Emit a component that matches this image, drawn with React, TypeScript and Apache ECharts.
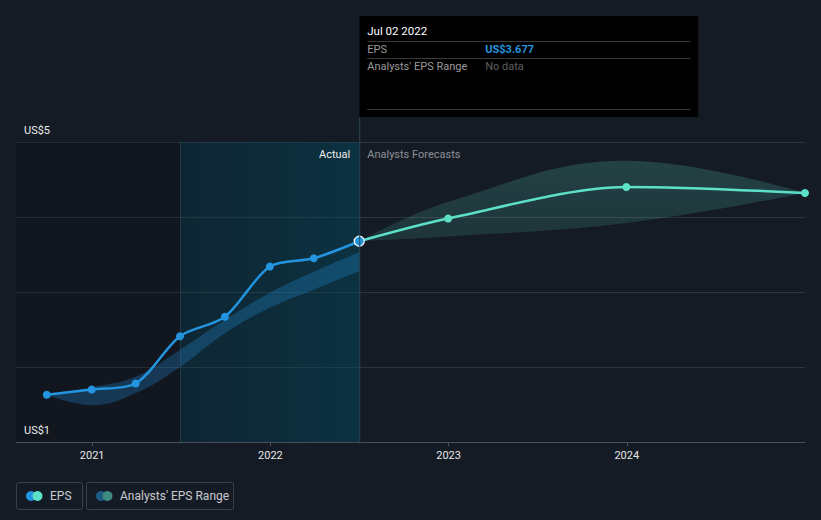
import React, { useEffect, useRef } from "react";
import * as echarts from "echarts";

const actualDates = ["2020-09-30", "2020-12-31", "2021-03-31", "2021-06-30", "2021-09-30", "2021-12-31", "2022-03-31", "2022-07-02"];
const actualEps = [1.63, 1.7, 1.78, 2.41, 2.67, 3.34, 3.45, 3.677];
const pastRangeLow = [1.63, 1.49, 1.65, 2.0, 2.45, 2.79, 3.03, 3.28];
const pastRangeHigh = [1.63, 1.73, 1.87, 2.23, 2.63, 2.99, 3.27, 3.53];

const forecastDates = ["2022-07-02", "2022-12-31", "2023-12-31", "2024-12-31"];
const forecastEps = [3.677, 3.98, 4.4, 4.32];
const forecastLow = [3.677, 3.74, 3.92, 4.32];
const forecastHigh = [3.677, 4.2, 4.75, 4.32];

const yTickLabels = ["US$1", "US$5"];
const yTickValues = [1, 5];
const axisMin = "2020-07-29";
const axisMax = "2024-12-31";
const forecastStart = "2021-06-30";
const todayDate = "2022-07-02";
const tooltipTitle = "Jul 02 2022";
const tooltipEps = "US$3.677";

const FONT = "Roboto, 'Noto Sans', sans-serif";
const BLUE = "#2394df";
const MINT = "#5ce1c8";

export default function App() {
  const ref = useRef<HTMLDivElement>(null);
  useEffect(() => {
    if (!ref.current) return;
    const chart = echarts.init(ref.current, null, { renderer: "svg" });
    const pair = (d: string[], v: number[]) => d.map((x, i) => [x, v[i]]);
    const diff = (a: number[], b: number[]) => a.map((x, i) => +(x - b[i]).toFixed(4));

    const option: any = {
      animation: false,
      backgroundColor: "#151b25",
      textStyle: { fontFamily: FONT },
      grid: { left: 16, right: 16, top: 142, bottom: 78 },
      xAxis: {
        type: "time",
        min: axisMin,
        max: axisMax,
        minInterval: 365 * 86400000,
        maxInterval: 366 * 86400000,
        axisLine: { lineStyle: { color: "#4a4f57" } },
        axisTick: { show: true, length: 4, lineStyle: { color: "#4a4f57" } },
        axisLabel: { color: "#e6e6e6", fontSize: 11, fontFamily: FONT, formatter: "{yyyy}", margin: 8 },
        splitLine: { show: false },
      },
      yAxis: {
        type: "value",
        min: 1,
        max: 5,
        interval: 1,
        axisLabel: { show: false },
        axisLine: { show: false },
        axisTick: { show: false },
        splitLine: { lineStyle: { color: "#2e343d", width: 1 } },
      },
      series: [
        {
          name: "bg",
          type: "line",
          data: [],
          silent: true,
          z: 0,
          markArea: {
            silent: true,
            data: [
              [{ xAxis: axisMin, itemStyle: { color: "rgba(0,0,0,0.16)" } }, { xAxis: forecastStart }],
              [
                {
                  xAxis: forecastStart,
                  itemStyle: {
                    color: new echarts.graphic.LinearGradient(0, 0, 1, 0, [
                      { offset: 0, color: "rgba(0,62,82,0.32)" },
                      { offset: 1, color: "rgba(0,78,100,0.45)" },
                    ]),
                  },
                },
                { xAxis: todayDate },
              ],
            ],
          },
          markLine: {
            silent: true,
            symbol: "none",
            label: { show: false },
            lineStyle: { color: "rgba(60,110,130,0.3)", type: "solid", width: 1 },
            data: [{ xAxis: forecastStart }],
          },
        },
        {
          name: "pastLow",
          type: "line",
          stack: "past",
          smooth: 0.4,
          symbol: "none",
          lineStyle: { opacity: 0 },
          areaStyle: { opacity: 0 },
          data: pair(actualDates, pastRangeLow),
          z: 2,
        },
        {
          name: "pastRange",
          type: "line",
          stack: "past",
          smooth: 0.4,
          symbol: "none",
          lineStyle: { opacity: 0 },
          areaStyle: { color: "rgba(35,148,223,0.4)" },
          data: pair(actualDates, diff(pastRangeHigh, pastRangeLow)),
          z: 2,
        },
        {
          name: "fcLow",
          type: "line",
          stack: "fc",
          smooth: 0.4,
          symbol: "none",
          lineStyle: { opacity: 0 },
          areaStyle: { opacity: 0 },
          data: pair(forecastDates, forecastLow),
          z: 2,
        },
        {
          name: "fcRange",
          type: "line",
          stack: "fc",
          smooth: 0.4,
          symbol: "none",
          lineStyle: { opacity: 0 },
          areaStyle: {
            color: new echarts.graphic.LinearGradient(0, 0, 0, 1, [
              { offset: 0, color: "rgba(92,225,200,0.28)" },
              { offset: 1, color: "rgba(92,225,200,0.18)" },
            ]),
          },
          data: pair(forecastDates, diff(forecastHigh, forecastLow)),
          z: 2,
        },
        {
          name: "forecast",
          type: "line",
          smooth: 0.3,
          symbol: "circle",
          symbolSize: 8,
          lineStyle: { color: MINT, width: 2.5 },
          itemStyle: { color: MINT },
          data: forecastDates.map((d, i) =>
            i === 0 ? { value: [d, forecastEps[i]], symbol: "none" } : [d, forecastEps[i]]
          ),
          z: 3,
        },
        {
          name: "EPS",
          type: "line",
          smooth: 0.3,
          symbol: "circle",
          symbolSize: 8,
          lineStyle: { color: BLUE, width: 2.5 },
          itemStyle: { color: BLUE },
          data: actualDates.map((d, i) =>
            i === actualDates.length - 1
              ? { value: [d, actualEps[i]], symbolSize: 10, itemStyle: { color: BLUE, borderColor: "#ffffff", borderWidth: 1.2 } }
              : [d, actualEps[i]]
          ),
          z: 4,
        },
      ],
    };
    chart.setOption(option);

    const tx = chart.convertToPixel({ xAxisIndex: 0 }, todayDate) as number;
    const y5 = chart.convertToPixel({ yAxisIndex: 0 }, yTickValues[1]) as number;
    const y1 = chart.convertToPixel({ yAxisIndex: 0 }, yTickValues[0]) as number;
    const boxL = tx + 8;
    const boxR = tx + 331;

    const legendItems = [
      { x: 16, w: 66, label: "EPS", c1: BLUE, c2: MINT },
      { x: 86, w: 147, label: "Analysts' EPS Range", c1: "#1d5a85", c2: "#3f8a80" },
    ];
    const legendGraphics: any[] = [];
    legendItems.forEach((it) => {
      legendGraphics.push({
        type: "rect",
        shape: { x: it.x + 0.5, y: 482.5, width: it.w, height: 27, r: 2 },
        style: { fill: "none", stroke: "#3b3f48", lineWidth: 1 },
      });
      legendGraphics.push({ type: "circle", shape: { cx: it.x + 15, cy: 496, r: 5 }, style: { fill: it.c1 } });
      legendGraphics.push({ type: "circle", shape: { cx: it.x + 21.5, cy: 496, r: 5 }, style: { fill: it.c2 } });
      legendGraphics.push({
        type: "text",
        x: it.x + 34,
        y: 496,
        style: { text: it.label, fill: "#c8cbd0", font: `12px ${FONT}`, verticalAlign: "middle" },
      });
    });

    chart.setOption({
      graphic: [
        {
          type: "line",
          shape: { x1: tx + 0.5, y1: 16, x2: tx + 0.5, y2: y1 },
          style: { stroke: "#2c4754", lineWidth: 1 },
          z: 5,
        },
        {
          type: "rect",
          shape: { x: tx, y: 16, width: 339, height: 101 },
          style: { fill: "#000000" },
          z: 10,
        },
        { type: "text", x: boxL, y: 31, z: 11, style: { text: tooltipTitle, fill: "#ffffff", font: `11.5px ${FONT}`, verticalAlign: "middle" } },
        { type: "line", z: 11, shape: { x1: boxL, y1: 41.5, x2: boxR, y2: 41.5 }, style: { stroke: "#3a3a3a", lineWidth: 1 } },
        { type: "text", x: boxL, y: 49, z: 11, style: { text: "EPS", fill: "#9a9a9a", font: `11px ${FONT}`, verticalAlign: "middle" } },
        { type: "text", x: tx + 126, y: 49, z: 11, style: { text: tooltipEps, fill: BLUE, font: `bold 11px ${FONT}`, verticalAlign: "middle" } },
        { type: "line", z: 11, shape: { x1: boxL, y1: 58.5, x2: boxR, y2: 58.5 }, style: { stroke: "#3a3a3a", lineWidth: 1 } },
        { type: "text", x: boxL, y: 66, z: 11, style: { text: "Analysts' EPS Range", fill: "#9a9a9a", font: `11px ${FONT}`, verticalAlign: "middle" } },
        { type: "text", x: tx + 126, y: 66, z: 11, style: { text: "No data", fill: "#5f5f5f", font: `11px ${FONT}`, verticalAlign: "middle" } },
        { type: "line", z: 11, shape: { x1: boxL, y1: 109.5, x2: boxR, y2: 109.5 }, style: { stroke: "#3a3a3a", lineWidth: 1 } },
        { type: "text", x: tx - 9, y: 154, z: 11, style: { text: "Actual", fill: "#ececec", font: `11px ${FONT}`, align: "right", verticalAlign: "middle" } },
        { type: "text", x: tx + 8, y: 154, z: 11, style: { text: "Analysts Forecasts", fill: "#8b9098", font: `11px ${FONT}`, verticalAlign: "middle" } },
        { type: "text", x: 24, y: y5 - 12, z: 11, style: { text: yTickLabels[1], fill: "#ececec", font: `11px ${FONT}`, verticalAlign: "middle" } },
        { type: "text", x: 24, y: y1 - 12, z: 11, style: { text: yTickLabels[0], fill: "#ececec", font: `11px ${FONT}`, verticalAlign: "middle" } },
        ...legendGraphics,
      ],
    });

    return () => chart.dispose();
  }, []);
  return <div ref={ref} style={{ width: 821, height: 520, position: "absolute", left: 0, top: 0 }} />;
}
